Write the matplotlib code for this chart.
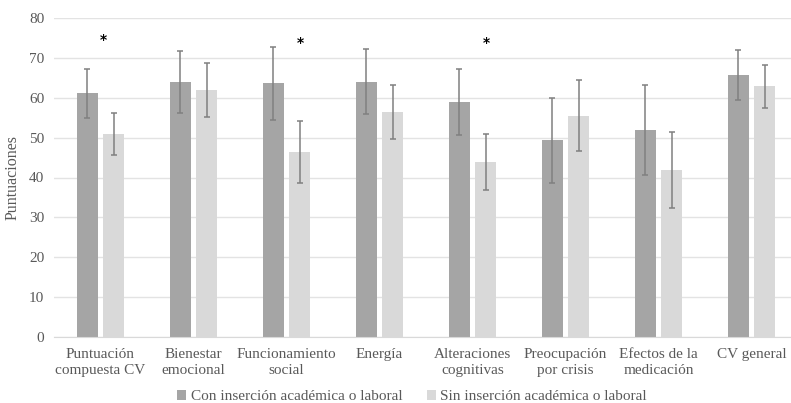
import matplotlib
matplotlib.use("Agg")
import matplotlib.pyplot as plt
import numpy as np

categories = ["Puntuación\ncompuesta CV", "Bienestar\nemocional", "Funcionamiento\nsocial",
              "Energía", "Alteraciones\ncognitivas", "Preocupación\npor crisis",
              "Efectos de la\nmedicación", "CV general"]
series_names = ["Con inserción académica o laboral", "Sin inserción académica o laboral"]
con_mean = [61.2, 64.0, 63.7, 64.1, 59.0, 49.3, 51.9, 65.8]
con_sd = [6.15, 7.9, 9.2, 8.2, 8.35, 10.6, 11.3, 6.3]
sin_mean = [50.9, 62.0, 46.4, 56.5, 43.9, 55.5, 41.8, 62.9]
sin_sd = [5.2, 6.7, 7.75, 6.85, 7.15, 8.95, 9.55, 5.4]
sig_index = [0, 2, 4]
sig_offset = [0.03, 0.145, 0.145]
sig_y = [74.6, 73.7, 73.7]
yticks = [0, 10, 20, 30, 40, 50, 60, 70, 80]

plt.rcParams['font.family'] = ['Liberation Serif', 'DejaVu Serif']

fig = plt.figure(figsize=(7.91, 4.03), dpi=100)
ax = fig.add_axes([54/791, (403-336.7)/403, 744/791, 318.4/403])

x = np.arange(len(categories))
w = 0.226
off = 0.145
dark = "#a5a5a5"
light = "#d9d9d9"
ecol = "#808080"

ax.bar(x - off, con_mean, width=w, color=dark, label=series_names[0], zorder=2)
ax.bar(x + off, sin_mean, width=w, color=light, label=series_names[1], zorder=2)
ax.errorbar(x - off, con_mean, yerr=con_sd, fmt="none", ecolor=ecol, elinewidth=1.1,
            capsize=2.3, capthick=1.1, zorder=3)
ax.errorbar(x + off, sin_mean, yerr=sin_sd, fmt="none", ecolor=ecol, elinewidth=1.1,
            capsize=2.3, capthick=1.1, zorder=3)

for i, o, yy in zip(sig_index, sig_offset, sig_y):
    ax.text(i + o, yy, "*", ha="center", va="center", fontsize=10, fontweight="bold",
            color="black", family=['DejaVu Sans'])

ax.set_xlim(-0.5, len(categories) - 0.5)
ax.set_ylim(0, 80)
ax.set_yticks(yticks)
ax.set_xticks(x)
ax.set_xticklabels(categories, fontsize=11, color="#595959", linespacing=1.35)
ax.tick_params(axis="y", labelsize=11, labelcolor="#595959", length=0, pad=7)
ax.tick_params(axis="x", length=0, pad=8)
ax.grid(axis="y", color="#e3e3e3", linewidth=1.0, zorder=0)
ax.set_axisbelow(True)
for s in ["top", "right", "left"]:
    ax.spines[s].set_visible(False)
ax.spines["bottom"].set_color("#d9d9d9")
ax.set_ylabel("Puntuaciones", fontsize=11.5, color="#595959", labelpad=6)

fig.legend(loc="lower center", bbox_to_anchor=(412/791, -0.035), ncol=2, frameon=False,
           fontsize=11, labelcolor="#595959", handlelength=0.6, handleheight=0.6,
           handletextpad=0.3, columnspacing=1.6)

fig.savefig("out.png", dpi=100)
